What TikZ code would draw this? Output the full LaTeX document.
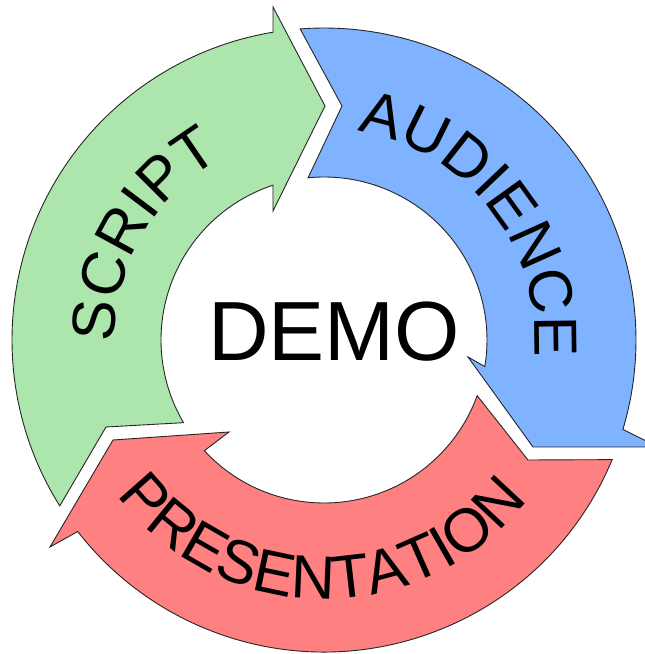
\documentclass[tikz,border=0pt]{standalone}
\usepackage{fontspec}
\setmainfont{Liberation Sans}
\newfontfamily\labelfont{Liberation Sans}
\usetikzlibrary{calc,decorations.text}
\definecolor{gfill}{RGB}{172,230,172}
\definecolor{bfill}{RGB}{128,179,255}
\definecolor{rfill}{RGB}{255,128,128}
\newcommand\ringfont{\labelfont\fontsize{61}{61}\selectfont}
\tikzset{
  arrowshape/.style={draw=black!85, line width=0.9pt, line join=miter},
  greenarrow/.style={arrowshape, fill=gfill},
  bluearrow/.style={arrowshape, fill=bfill},
  redarrow/.style={arrowshape, fill=rfill},
  ringtext/.style={decorate, decoration={text along path, text align=center, text={|\ringfont|#1}}}
}
\begin{document}
\begin{tikzpicture}[x=1pt,y=1pt]
\useasboundingbox (0,0) rectangle (645,654);
\fill[white] (0,0) rectangle (645,654);
\clip (0,0) rectangle (645,654);
\coordinate (C) at (324,314);
% green arrow (SCRIPT)
\draw[greenarrow] ($(C)+(212.12:312pt)$) arc[start angle=212.12, end angle=99.41, radius=312pt]
  -- (273,647) -- (325,548) -- (273,443)
  -- ($(C)+(108.24:163pt)$) arc[start angle=108.24, end angle=210.48, radius=163pt]
  -- (106,227) -- cycle;
% blue arrow (AUDIENCE)
\draw[bluearrow] ($(C)+(94.38:312pt)$) arc[start angle=94.38, end angle=-16.65, radius=312pt]
  -- (658,207) -- (533,207) -- (468,297)
  -- ($(C)+(-9.4:163pt)$) arc[start angle=-9.4, end angle=95.61, radius=163pt]
  -- (342,548) -- cycle;
% red arrow (PRESENTATION)
\draw[redarrow] ($(C)+(-22.55:312pt)$) arc[start angle=-22.55, end angle=-142.14, radius=312pt]
  -- (50,107) -- (113,214) -- (229,222)
  -- ($(C)+(-137.23:163pt)$) arc[start angle=-137.23, end angle=-19.98, radius=163pt]
  -- (528,194) -- cycle;
% curved labels
\path[ringtext={SCRIPT}] ($(C)+(210:209pt)$) arc[start angle=210, end angle=90, radius=209pt];
\path[ringtext={AUDIENCE}] ($(C)+(98:211pt)$) arc[start angle=98, end angle=-22, radius=211pt];
\path[ringtext={PRESENTATION}] ($(C)+(-165.65:259pt)$) arc[start angle=-165.65, end angle=-15.65, radius=259pt];
% centre
\node[font=\fontsize{84}{84}\selectfont, inner sep=0pt] (demo) at (334,322) {DEMO};
\end{tikzpicture}
\end{document}
